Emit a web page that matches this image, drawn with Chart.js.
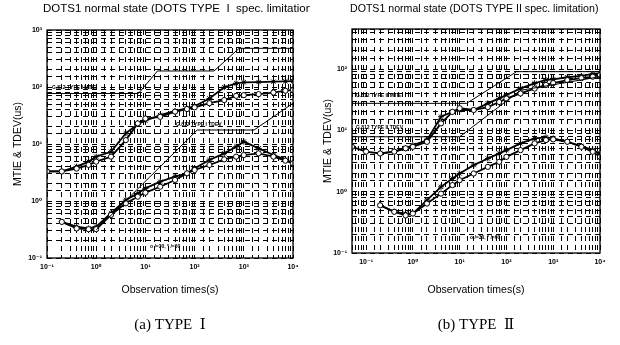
<!DOCTYPE html>
<html><head><meta charset="utf-8">
<script src="https://cdn.jsdelivr.net/npm/chart.js@4.4.1/dist/chart.umd.min.js"></script>
<style>
html,body{margin:0;padding:0;background:#fff;}
#wrap{position:relative;width:620px;height:345px;overflow:hidden;background:#fff;}
.box{position:absolute;top:0;width:310px;height:345px;}
#boxA{left:0;} #boxB{left:310px;}
</style></head><body>
<div id="wrap">
  <div class="box" id="boxA"><canvas id="chartA"></canvas></div>
  <div class="box" id="boxB"><canvas id="chartB"></canvas></div>
</div>
<script>
// ---------- data ----------
const titleA = "DOTS1 normal state (DOTS TYPE  I  spec. limitation)";
const titleB = "DOTS1 normal state (DOTS TYPE II spec. limitation)";
const captionA = "(a) TYPE  Ⅰ";
const captionB = "(b) TYPE  Ⅱ";
const xTitle = "Observation times(s)";
const yTitle = "MTIE & TDEV(us)";

// TYPE I
const timesA = [0.1,0.2,0.4,0.7,1,2,4,7,10,20,40,70,100,200,400,700,1000,2000,4000,7000,10000];
const mtieA1 = [3.3,3.3,3.7,4.3,4.9,6.0,11.7,23,28,30,37,41,44,52,59,70,72,75,80,86,89];
const mtieA2 = [3.3,3.3,4.0,4.9,6.0,7.3,15.4,22.4,25.6,32,38,42,46,63,99,116,121,122,124,126,127];
const timesA_t = [0.2,0.4,0.7,1,2,4,7,10,20,40,70,100,200,400,700,1000,2000,4000,7000,10000];
const tdevA1 = [0.43,0.33,0.32,0.32,0.57,0.91,1.19,1.40,1.78,2.34,3.06,3.5,4.28,5.38,6.0,6.4,6.85,6.0,5.1,4.58];
const tdevA2 = [0.43,0.355,0.33,0.355,0.61,1.04,1.36,1.67,2.18,2.67,3.06,3.74,5.24,6.85,8.97,11.0,8.4,6.41,5.38,4.58];
const limMtieA_x = [0.1,7.2,17.6,248,803,10000];
const limMtieA_y = [77,77,191,191,477,477];
const limTdevA_x = [1,113,1620,10000];
const limTdevA_y = [0.31,17.6,17.6,52];

// TYPE II
const timesB = [0.05,0.1,0.2,0.4,0.7,1,2,4,7,10,20,40,70,100,200,400,700,1000,2000,4000,7000,10000];
const mtieB1 = [5.4,4.5,4.2,4.5,5.1,5.4,6.5,13,20,23,21.5,24,29,33,40,48,55,59,66,71,75,80];
const timesB_t = [0.2,0.4,0.7,1,2,4,7,10,20,40,70,100,200,400,700,1000,2000,4000,7000,10000];
const mtieB2 = [4.2,4.5,5.1,5.75,6.9,16.7,20.1,21.5,21.5,27.6,33.3,37.8,48.5,58.6,66.4,68.1,73.5,77.1,83.2,85.3];
const tdevB1 = [0.60,0.47,0.41,0.44,0.64,0.93,1.28,1.54,1.98,2.54,3.07,3.7,4.76,6.13,6.94,7.13,6.52,5.40,4.47,3.7];
const tdevB2 = [0.60,0.47,0.44,0.44,0.73,1.2,1.64,1.98,2.71,3.48,4.21,4.76,6.13,7.4,7.69,7.4,6.52,5.53,4.76,4.21];
const limMtieB_x = [0.05,14.1,165,10000];
const limMtieB_y = [27.6,27.6,90.7,90.7];
const limTdevB_x = [0.05,10,200,10000];
const limTdevB_y = [7.86,7.86,45,75];

const notesA = ["G.812 TYPE I MTIE", "G.812 TYPE I TDEV", "o /=30, * /=60"];
const notesB = ["G.812 TYPE II MTIE", "G.812 TYPE II TDEV", "o /=30, * /=60"];

// ---------- helpers ----------
const pts = (xs, ys) => xs.map((x, i) => ({x: x, y: ys[i]}));
const SUP = {'-':'⁻','0':'⁰','1':'¹','2':'²','3':'³','4':'⁴','5':'⁵'};
function decadeLabel(v) {
  const l = Math.log10(v);
  const r = Math.round(l);
  if (Math.abs(l - r) > 1e-6) return '';
  return '10' + String(r).split('').map(c => SUP[c]).join('');
}

const extraText = {
  id: 'extraText',
  afterDraw(chart, args, opts) {
    const ctx = chart.ctx, a = chart.chartArea;
    ctx.save();
    ctx.strokeStyle = '#000';
    ctx.lineWidth = 1.3;
    ctx.setLineDash([]);
    ctx.strokeRect(a.left, a.top, a.right - a.left, a.bottom - a.top);
    for (const t of opts.items) {
      ctx.font = t.font;
      ctx.fillStyle = '#000';
      ctx.textAlign = t.align || 'left';
      ctx.textBaseline = 'middle';
      ctx.fillText(t.text, t.x, t.y);
    }
    ctx.restore();
  }
};

function measured(data, style) {
  return {
    data: data, showLine: true, borderColor: '#000', borderWidth: 1.8,
    pointStyle: style, pointRadius: style === 'circle' ? 2.6 : 3,
    pointBackgroundColor: style === 'circle' ? '#fff' : '#000',
    pointBorderColor: '#000', pointBorderWidth: 1, tension: 0
  };
}
function limit(data) {
  return {data: data, showLine: true, borderColor: '#000', borderWidth: 1, pointRadius: 0, tension: 0};
}

function makeChart(id, cfg) {
  const gridOpts = {color: '#000', lineWidth: 1, drawTicks: false};
  const borderOpts = {display: false, dash: [5, 4], dashOffset: 0};
  return new Chart(document.getElementById(id), {
    type: 'line',
    data: {datasets: cfg.datasets},
    options: {
      responsive: true, maintainAspectRatio: false, animation: false,
      layout: {padding: cfg.padding},
      plugins: {
        legend: {display: false}, tooltip: {enabled: false},
        title: {display: false},
        subtitle: {display: true, text: cfg.caption, position: 'bottom', fullSize: false,
          color: '#000', padding: 0, font: {family: '"Liberation Serif","DejaVu Serif",serif', size: 15}},
        extraText: {items: cfg.texts}
      },
      scales: {
        x: {
          type: 'logarithmic', min: cfg.xmin, max: cfg.xmax, position: 'bottom',
          afterFit: s => { s.height = cfg.xh; },
          grid: gridOpts, border: borderOpts,
          ticks: {autoSkip: false, maxRotation: 0, padding: 5, color: '#000',
            font: {family: '"Liberation Sans","DejaVu Sans",sans-serif', size: 7, weight: 'bold'},
            callback: v => decadeLabel(v)},
          title: {display: true, text: xTitle, color: '#000', padding: {top: 0, bottom: 20},
            font: {family: '"Liberation Sans",sans-serif', size: 10.5}}
        },
        y: {
          type: 'logarithmic', min: cfg.ymin, max: cfg.ymax, position: 'left',
          afterFit: s => { s.width = cfg.yw; },
          grid: gridOpts, border: borderOpts,
          ticks: {autoSkip: false, padding: 5, color: '#000',
            font: {family: '"Liberation Sans","DejaVu Sans",sans-serif', size: 7, weight: 'bold'},
            callback: v => decadeLabel(v)},
          title: {display: true, text: yTitle, color: '#000', padding: {top: 12, bottom: 0},
            font: {family: '"Liberation Sans",sans-serif', size: 10.5}}
        }
      }
    },
    plugins: [extraText]
  });
}

makeChart('chartA', {
  caption: captionA, padding: {top: 30, right: 17, bottom: 11, left: 0},
  xmin: 0.1, xmax: 10000, ymin: 0.1, ymax: 1000, xh: 58, yw: 47,
  datasets: [
    limit(pts(limMtieA_x, limMtieA_y)),
    limit(pts(limTdevA_x, limTdevA_y)),
    measured(pts(timesA, mtieA1), 'circle'),
    measured(pts(timesA, mtieA2), 'star'),
    measured(pts(timesA_t, tdevA1), 'circle'),
    measured(pts(timesA_t, tdevA2), 'star')
  ],
  texts: [
    {text: titleA, x: 43, y: 9, font: '11.5px "Liberation Sans", sans-serif'},
    {text: notesA[0], x: 52, y: 88, font: 'bold 5px "Liberation Sans", sans-serif'},
    {text: notesA[1], x: 176, y: 125, font: 'bold 5px "Liberation Sans", sans-serif'},
    {text: notesA[2], x: 150, y: 247, font: 'bold 5px "Liberation Sans", sans-serif'}
  ]
});

makeChart('chartB', {
  caption: captionB, padding: {top: 29, right: 20, bottom: 11, left: 0},
  xmin: 0.05, xmax: 10000, ymin: 0.1, ymax: 450, xh: 63, yw: 42,
  datasets: [
    limit(pts(limMtieB_x, limMtieB_y)),
    limit(pts(limTdevB_x, limTdevB_y)),
    measured(pts(timesB, mtieB1), 'circle'),
    measured(pts(timesB_t, mtieB2), 'star'),
    measured(pts(timesB_t, tdevB1), 'circle'),
    measured(pts(timesB_t, tdevB2), 'star')
  ],
  texts: [
    {text: titleB, x: 40, y: 9, font: '10.6px "Liberation Sans", sans-serif'},
    {text: notesB[0], x: 46, y: 96, font: 'bold 5px "Liberation Sans", sans-serif'},
    {text: notesB[1], x: 46, y: 128, font: 'bold 5px "Liberation Sans", sans-serif'},
    {text: notesB[2], x: 160, y: 238, font: 'bold 5px "Liberation Sans", sans-serif'}
  ]
});
</script>
</body></html>
